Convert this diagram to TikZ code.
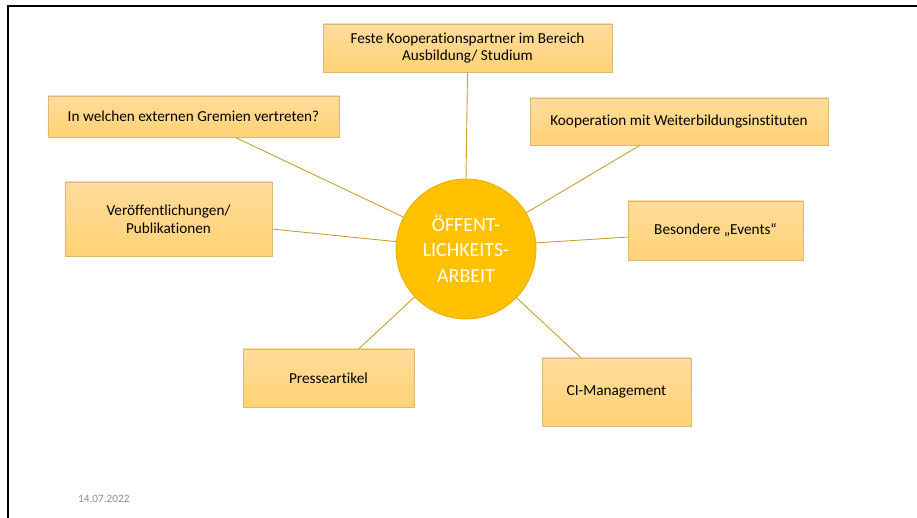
\documentclass[tikz,border=0pt]{standalone}
\usepackage{fontspec}
\setmainfont[Ligatures=NoCommon]{Carlito}
\usetikzlibrary{calc}
\definecolor{boxtop}{HTML}{FFDC9C}
\definecolor{boxbot}{HTML}{FFD274}
\definecolor{boxline}{HTML}{D9B878}
\definecolor{hubfill}{HTML}{FFC000}
\definecolor{hubline}{HTML}{E8B000}
\definecolor{linkcol}{HTML}{C9A030}
\definecolor{dategray}{HTML}{8C8C8C}
\tikzset{
  topic/.style={rectangle, draw=boxline, line width=0.8bp, top color=boxtop, bottom color=boxbot,
    inner sep=0pt, align=center, font=\fontsize{15.3}{18}\selectfont, text=black},
  hub/.style={circle, draw=hubline, line width=0.8bp, fill=hubfill, inner sep=0pt,
    minimum size=140bp, align=center, text=white, font=\fontsize{20}{26}\selectfont},
  link/.style={draw=linkcol, line width=0.9bp},
}
\begin{document}
\begin{tikzpicture}[x=1bp,y=1bp]
\useasboundingbox (0,0) rectangle (917,518);
% slide frame
\draw[line width=2.6bp, black] (8,0) -- (8,512) -- (917,512);

\node[hub] (hub) at (466,269) {ÖFFENT-\\LICHKEITS-\\ARBEIT};

\node[topic, minimum width=289bp, minimum height=48bp] (feste) at (467.5,470) {Feste Kooperationspartner im Bereich\\Ausbildung/ Studium};
\node[topic, minimum width=291bp, minimum height=41bp] (inw) at (193.5,401.5) {In welchen externen Gremien vertreten?};
\node[topic, minimum width=207bp, minimum height=74bp] (ver) at (168.5,299) {Veröffentlichungen/\\Publikationen};
\node[topic, minimum width=298bp, minimum height=47bp] (koop) at (679,396.5) {Kooperation mit Weiterbildungsinstituten};
\node[topic, minimum width=175bp, minimum height=59bp] (bes) at (715.5,287.5) {Besondere „Events“};
\node[topic, minimum width=171bp, minimum height=58bp] (pres) at (328.5,140) {Presseartikel};
\node[topic, minimum width=149bp, minimum height=68bp] (ci) at (616.5,126) {CI-Management};

\node[font=\fontsize{11.3}{13}\selectfont, text=dategray, anchor=west, inner sep=0pt] (date) at (78,19) {14.07.2022};

\draw[link] (feste.south) -- (hub.90);
\draw[link] ($(inw.south west)!0.643!(inw.south east)$) -- (hub.153);
\draw[link] ($(ver.north east)!0.635!(ver.south east)$) -- (hub.174);
\draw[link] ($(koop.south west)!0.369!(koop.south east)$) -- (hub.31);
\draw[link] ($(bes.north west)!0.61!(bes.south west)$) -- (hub.5);
\draw[link] ($(pres.north west)!0.678!(pres.north east)$) -- (hub.223);
\draw[link] ($(ci.north west)!0.262!(ci.north east)$) -- (hub.316);
\end{tikzpicture}
\end{document}
